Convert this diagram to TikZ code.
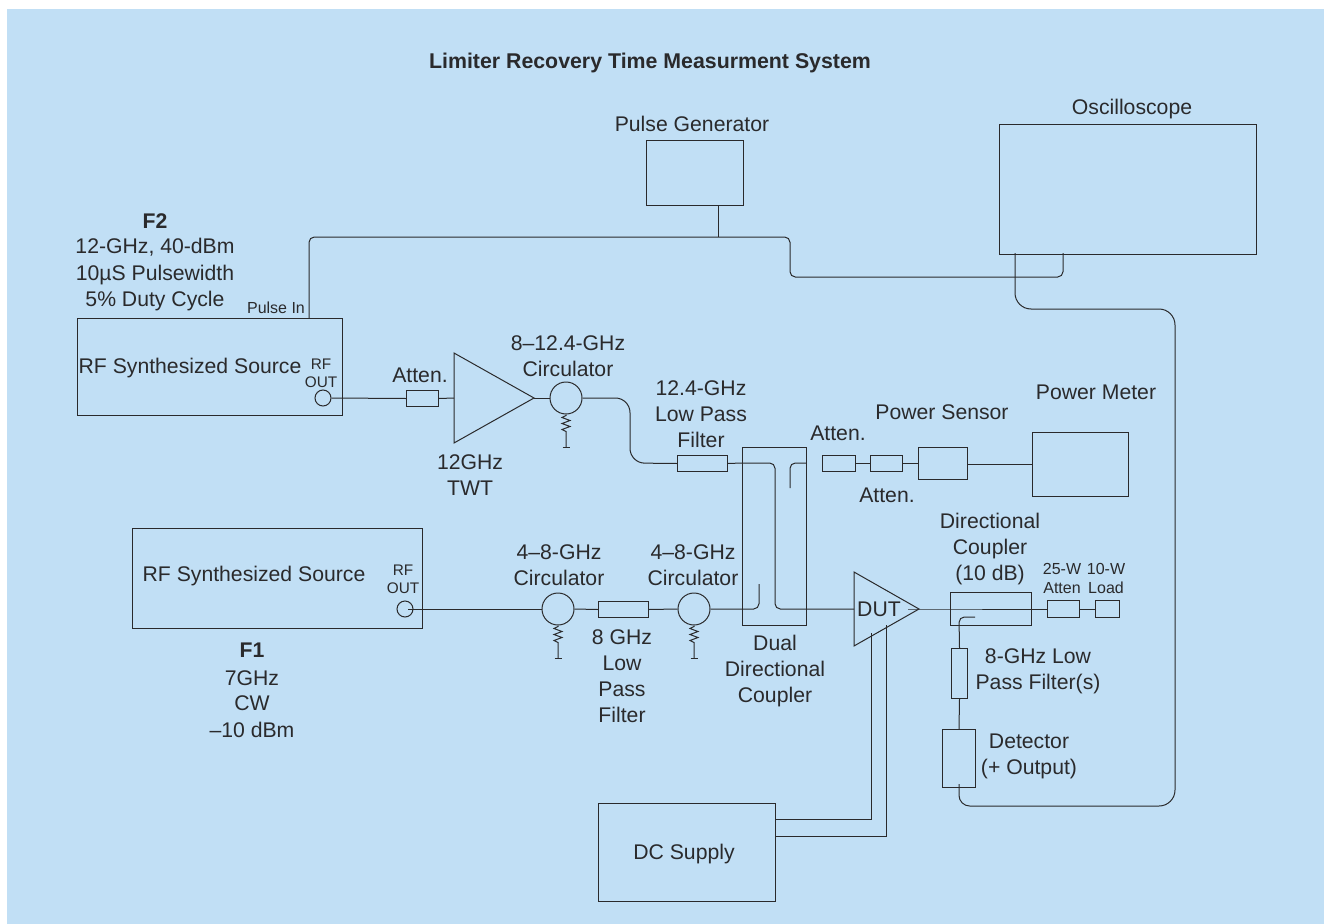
\documentclass[tikz,border=0pt]{standalone}
\usepackage{fontspec}
\setmainfont{Liberation Sans}
\usetikzlibrary{calc}
\definecolor{bgblue}{HTML}{C1DFF5}
\definecolor{ink}{HTML}{2A2A2C}
\tikzset{
  wire/.style={draw=ink,line width=0.75pt},
  boxx/.style={draw=ink,line width=0.75pt,fill=none},
  lab/.style={font=\fontsize{15.9}{19.5}\selectfont,text=ink,align=center,inner sep=0pt,yshift=-0.4pt},
  smalllab/.style={font=\fontsize{12}{14.25}\selectfont,text=ink,align=center,inner sep=0pt,yshift=-0.5pt},
  rflab/.style={font=\fontsize{11.5}{13.5}\selectfont,text=ink,align=center,inner sep=0pt,yshift=-0.5pt},
}
\newcommand{\rbox}[5]{\node[boxx,rectangle,inner sep=0pt,minimum width={(#4-#2)*0.75pt},minimum height={(#5-#3)*0.75pt},anchor=north west] (#1) at (#2,#3) {};}
\newcommand{\circl}[4]{\node[boxx,circle,inner sep=0pt,minimum size={#4*1.5pt}] (#1) at (#2,#3) {};}
\newcommand{\resist}[1]{\draw[wire] (#1.south) -- ++(0,1) -- ++(-4,2) -- ++(8,3) -- ++(-8,3) -- ++(8,3) -- ++(-8,3) -- ++(4,2) -- ++(0,16) coordinate (#1g);\draw[wire,line width=1.4pt] ($(#1g)+(-3.5,0)$) -- ($(#1g)+(3.5,0)$);}
\begin{document}
\begin{tikzpicture}[x=0.75pt,y=-0.75pt]
\useasboundingbox (0,0) rectangle (1324,924);
\fill[bgblue] (7,9) rectangle (1324,924);
\node[lab,font=\fontsize{16}{19}\selectfont\bfseries] (title) at (650,62.5) {Limiter Recovery Time Measurment System};
% boxes
\rbox{osc}{999}{124}{1256}{254}
\rbox{pg}{646}{140}{743}{205}
\rbox{src2}{77}{318}{342}{415}
\rbox{src1}{132}{528}{422}{628}
\rbox{att1}{406}{390}{438}{406}
\rbox{lpf12}{677}{455}{727}{471}
\rbox{ddc}{742}{447}{806}{625}
\rbox{att2}{822}{455}{855}{471}
\rbox{att3}{870}{455}{902}{471}
\rbox{ps}{918}{447}{967}{479}
\rbox{pm}{1032}{432}{1128}{496}
\rbox{lpf8}{598}{601}{648}{617}
\rbox{dc}{950}{592}{1031}{625}
\rbox{att25}{1047}{600}{1079}{617}
\rbox{load}{1095}{600}{1119}{617}
\rbox{lpfb}{951}{648}{967}{698}
\rbox{det}{942}{729}{975}{787}
\rbox{dcs}{598}{803}{775}{901}
% circles
\circl{pa}{323}{398}{8}
\circl{pb}{405}{609}{8}
\circl{cc}{566}{398}{16}
\circl{ca}{558}{609}{16}
\circl{cb}{694}{609}{16}
% triangles
\draw[wire] (454,353) -- (534,398) -- (454,443) -- cycle;
\coordinate (twtin) at (454,398); \coordinate (twtout) at (534,398);
\draw[wire] (854,572) -- (919,609) -- (854,646) -- cycle;
\coordinate (dutin) at (854,609); \coordinate (duttip) at (919,609);
% terminated circulators
\resist{cc}
\resist{ca}
\resist{cb}
% wires top
\coordinate (pulsetap) at (718,237);
\draw[wire] (pg.south -| pulsetap) -- (pulsetap);
\draw[wire,rounded corners=4pt] (309,318) -- (309,237) -- (790,237) -- (790,277) -- (1063,277) -- (1063,253);
\draw[wire] (1015,253) [rounded corners=12pt] -- (1015,309) -- (1175,309) -- (1175,806) [rounded corners=8pt] -- (959,806) -- (959,784);
% rf2 chain
\draw[wire] (pa.east) -- (att1.west);
\draw[wire] (att1.east) -- (twtin);
\draw[wire] (twtout) -- (cc.west);
\draw[wire,rounded corners=11pt] (cc.east) -- (630,398) -- (630,463) -- (lpf12.west);
\draw[wire] (lpf12.east) -- (742,463);
\draw[wire,rounded corners=4pt] (742,463) -- (775,463) -- (775,609) -- (dutin);
\draw[wire,rounded corners=4pt] (806,463) -- (790,463) -- (790,488);
\draw[wire] (att2.east) -- (att3.west);
\draw[wire] (att3.east) -- (att3.east -| ps.west);
\draw[wire] (ps.east |- pm.west) -- (pm.west);
% rf1 chain
\draw[wire] ($(pb.center)+(3,0)$) -- (ca.west);
\draw[wire] (ca.east) -- (lpf8.west);
\draw[wire] (lpf8.east) -- (cb.west);
\draw[wire,rounded corners=4pt] (cb.east) -- (759,609) -- (759,584);
% output
\draw[wire] (908,609) -- (duttip) -- (att25.west);
\draw[wire] (att25.east) -- (load.west);
\draw[wire,rounded corners=4pt] (975,617) -- (959,617) -- (lpfb.north);
\draw[wire] (lpfb.south) -- (det.north);
% DC
\draw[wire] (871,633) -- (871,819) -- (dcs.east |- 0,819);
\draw[wire] (886.5,625) -- (886.5,836) -- (dcs.east |- 0,836);
% labels
\node[lab] (l1) at (1132,108) {Oscilloscope};
\node[lab] (l2) at (692,123) {Pulse Generator};
\node[lab] at (155,221) {\textbf{F2}};
\node[lab] at (155,247) {12-GHz, 40-dBm};
\node[lab] at (155,274) {10\textmu S Pulsewidth};
\node[lab] at (155,300) {5\% Duty Cycle};
\node[smalllab] at (276,307) {Pulse In};
\node[lab] at (190,367) {RF Synthesized Source};
\node[rflab] at (321,372.5) {RF\\OUT};
\node[lab] at (420,375) {Atten.};
\node[lab] at (470,475) {12GHz\\TWT};
\node[lab] at (568,356) {8--12.4-GHz\\Circulator};
\node[lab] at (701,414) {12.4-GHz\\Low Pass\\Filter};
\node[lab] at (838,433) {Atten.};
\node[lab] at (887,495) {Atten.};
\node[lab] at (942,412) {Power Sensor};
\node[lab] at (1096,392) {Power Meter};
\node[lab] at (254,575) {RF Synthesized Source};
\node[rflab] at (403,578.5) {RF\\OUT};
\node[lab] at (559,565) {4--8-GHz\\Circulator};
\node[lab] at (693,565) {4--8-GHz\\Circulator};
\node[lab] at (622,676) {8 GHz\\Low\\Pass\\Filter};
\node[lab] at (775,670) {Dual\\Directional\\Coupler};
\node[lab] at (879,609) {DUT};
\node[lab] at (990,548) {Directional\\Coupler\\(10 dB)};
\node[smalllab] at (1062,577.5) {25-W\\Atten};
\node[smalllab] at (1106,577.5) {10-W\\Load};
\node[lab] at (1038,671) {8-GHz Low\\Pass Filter(s)};
\node[lab] at (1029,756) {Detector\\(+ Output)};
\node[lab] at (252,650) {\textbf{F1}};
\node[lab] at (252,678) {7GHz};
\node[lab] at (252,703) {CW};
\node[lab] at (252,729) {--10 dBm};
\node[lab] at (684,853) {DC Supply};
\end{tikzpicture}
\end{document}
